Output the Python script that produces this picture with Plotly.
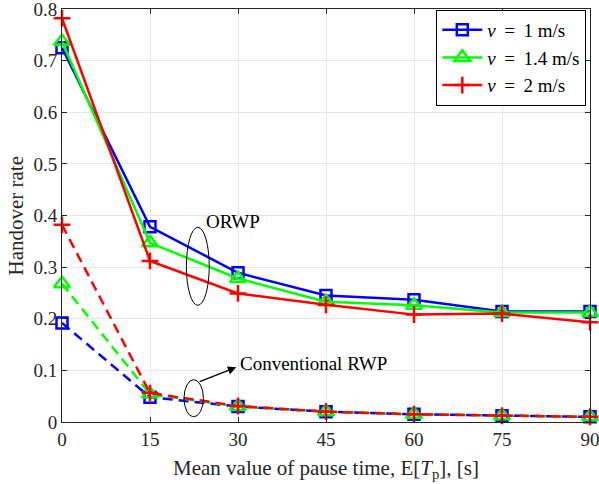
"""Handover rate vs mean pause time (ORWP vs conventional RWP)."""

import plotly.graph_objects as go

pause_time = [0, 15, 30, 45, 60, 75, 90]

orwp_v1 = [0.725, 0.378, 0.289, 0.245, 0.237, 0.214, 0.214]
orwp_v14 = [0.737, 0.347, 0.278, 0.233, 0.226, 0.212, 0.212]
orwp_v2 = [0.782, 0.312, 0.249, 0.227, 0.208, 0.210, 0.193]

rwp_v1 = [0.192, 0.048, 0.030, 0.020, 0.015, 0.012, 0.010]
rwp_v14 = [0.268, 0.054, 0.030, 0.020, 0.015, 0.012, 0.010]
rwp_v2 = [0.382, 0.056, 0.031, 0.020, 0.015, 0.012, 0.010]

y_ticks = [0, 0.1, 0.2, 0.3, 0.4, 0.5, 0.6, 0.7, 0.8]
y_ticktext = ["0", "0.1", "0.2", "0.3", "0.4", "0.5", "0.6", "0.7", "0.8"]

# a space plus a thin space around "=" mimics math-mode spacing
labels = ["<i>v</i> \u2009= \u20091 m/s", "<i>v</i> \u2009= \u20091.4 m/s", "<i>v</i> \u2009= \u20092 m/s"]
colors = ["#0000ff", "#00ff00", "#ff0000"]
symbols = ["square-open", "triangle-up-open", "cross-thin-open"]
sizes = [11, 14, 12]

FONT = "Liberation Serif, Times New Roman, serif"
INK = "#262626"

fig = go.Figure()

for ys, name, c, s, sz in zip([rwp_v1, rwp_v14, rwp_v2], labels, colors, symbols, sizes):
    fig.add_trace(go.Scatter(
        x=pause_time, y=ys, mode="lines+markers", name=name, showlegend=False,
        cliponaxis=False,
        line=dict(color=c, width=2.5, dash="10px,6px"),
        marker=dict(symbol=s, size=sz, color=c, line=dict(width=2.5, color=c)),
    ))

for ys, name, c, s, sz in zip([orwp_v1, orwp_v14, orwp_v2], labels, colors, symbols, sizes):
    fig.add_trace(go.Scatter(
        x=pause_time, y=ys, mode="lines+markers", name=name, cliponaxis=False,
        line=dict(color=c, width=2.5),
        marker=dict(symbol=s, size=sz, color=c, line=dict(width=2.5, color=c)),
    ))

# ellipses marking the two groups
fig.add_shape(type="circle", xref="x", yref="y", x0=21.2, x1=25.1, y0=0.226, y1=0.377,
              line=dict(color="black", width=1))
fig.add_shape(type="circle", xref="x", yref="y", x0=20.8, x1=24.1, y0=0.010, y1=0.082,
              line=dict(color="black", width=1))

fig.add_annotation(x=29.2, y=0.389, text="ORWP", showarrow=False,
                   font=dict(family=FONT, size=19, color="black"))
fig.add_annotation(x=30.0, y=0.1137, text="Conventional RWP", showarrow=False,
                   xanchor="left", font=dict(family=FONT, size=19, color="black"))
fig.add_annotation(x=29.7, y=0.106, ax=23.2, ay=0.077, axref="x", ayref="y",
                   xref="x", yref="y", text="", showarrow=True,
                   arrowhead=2, arrowsize=1.4, arrowwidth=1.2, arrowcolor="black")

# axis titles
fig.add_annotation(xref="paper", yref="paper", x=-0.089, y=0.5, textangle=-90,
                   xanchor="center", yanchor="middle",
                   text="Handover rate", showarrow=False,
                   font=dict(family=FONT, size=21, color=INK))
fig.add_annotation(xref="paper", yref="paper", x=0.5, y=-0.113,
                   xanchor="center", yanchor="middle",
                   text="Mean value of pause time, E[<i>T</i><sub>p</sub>], [s]",
                   showarrow=False, font=dict(family=FONT, size=21, color=INK))

axis_common = dict(
    showgrid=True, gridcolor="#e6e6e6", gridwidth=1,
    showline=True, linecolor=INK, linewidth=1, mirror="ticks",
    ticks="inside", ticklen=5, tickcolor=INK,
    tickfont=dict(family=FONT, size=19, color=INK),
    zeroline=False, automargin=False, ticklabeloverflow="allow",
)

fig.update_xaxes(range=[0, 90], tickvals=pause_time, **axis_common)
fig.update_yaxes(range=[0, 0.8], tickvals=y_ticks, ticktext=y_ticktext, **axis_common)

fig.update_layout(
    width=599, height=484,
    margin=dict(l=62, r=9, t=9, b=62),
    plot_bgcolor="white", paper_bgcolor="white",
    font=dict(family=FONT, size=19, color="black"),
    legend=dict(x=0.993, y=0.998, xanchor="right", yanchor="top",
                bgcolor="white", bordercolor="black", borderwidth=1,
                font=dict(family=FONT, size=19, color="black"), tracegroupgap=0,
                itemwidth=40),
)

# the page body has a default 8px margin; drop it so the figure sits at the corner
fig.write_html("out.html", config={"displayModeBar": False},
               post_script="document.body.style.margin='0';")
